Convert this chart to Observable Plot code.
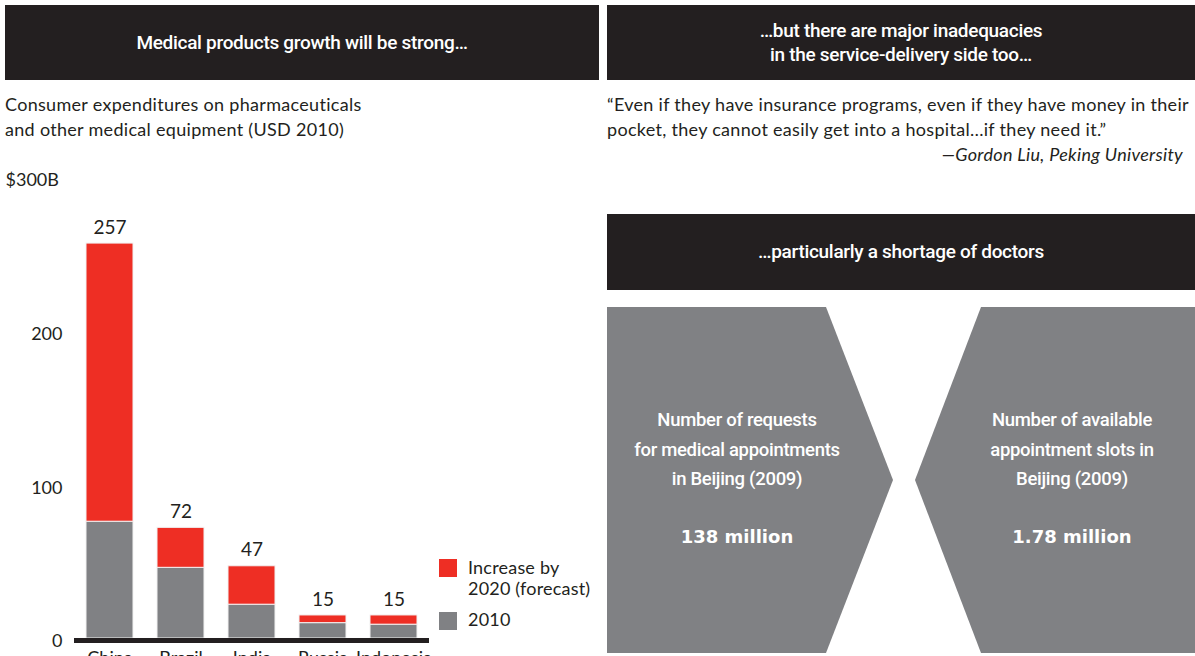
<!DOCTYPE html>
<html>
<head>
<meta charset="utf-8">
<script src="https://cdn.jsdelivr.net/npm/d3@7"></script>
<script src="https://cdn.jsdelivr.net/npm/@observablehq/plot@0.6"></script>
<style>
  html, body { margin: 0; padding: 0; background: #fff; }
  #page { position: relative; width: 1195px; height: 656px; overflow: hidden; font-family: Lato, "Noto Sans", sans-serif; color: #231f20; }
  .abs { position: absolute; }
  .band { background: #231f20; color: #fff; font-family: Roboto, sans-serif; font-weight: 500; font-size: 19px; letter-spacing: -0.3px; display: flex; align-items: center; justify-content: center; text-align: center; line-height: 24px; }
  .body { font-size: 18px; letter-spacing: 0.3px; line-height: 25px; white-space: nowrap; }
  .shape { background: #808184; }
  .stxt { color: #fff; font-family: Roboto, sans-serif; font-weight: 500; font-size: 18.5px; letter-spacing: -0.3px; line-height: 29.5px; text-align: center; white-space: nowrap; }
  .snum { color: #fff; font-family: "DejaVu Sans", sans-serif; font-weight: bold; font-size: 18px; text-align: center; white-space: nowrap; }
  .sw { width: 18px; height: 18px; }
  .lg { font-size: 18px; letter-spacing: 0.2px; line-height: 21px; white-space: nowrap; }
  #chart svg { overflow: visible; }
</style>
</head>
<body>
<div id="page">
  <div class="abs band" style="left:5px;top:5px;width:594px;height:75px;">Medical products growth will be strong…</div>
  <div class="abs band" style="left:607px;top:5px;width:588px;height:75px;">…but there are major inadequacies<br>in the service-delivery side too…</div>
  <div class="abs body" style="left:5px;top:92px;">Consumer expenditures on pharmaceuticals<br>and other medical equipment (USD 2010)</div>
  <div class="abs body" style="left:607px;top:92px;">“Even if they have insurance programs, even if they have money in their<br>pocket, they cannot easily get into a hospital…if they need it.”</div>
  <div class="abs body" style="right:12px;top:142px;font-style:italic;">—Gordon Liu, Peking University</div>
  <div class="abs band" style="left:607px;top:214px;width:588px;height:76px;">…particularly a shortage of doctors</div>

  <div class="abs shape" style="left:607px;top:307px;width:286px;height:346px;clip-path:polygon(0 0,219px 0,286px 173px,219px 346px,0 346px);"></div>
  <div class="abs shape" style="left:915px;top:307px;width:280px;height:346px;clip-path:polygon(66px 0,280px 0,280px 346px,66px 346px,0 173px);"></div>
  <div class="abs stxt" style="left:627px;width:220px;top:406px;">Number of requests<br>for medical appointments<br>in Beijing (2009)</div>
  <div class="abs snum" style="left:637px;width:200px;top:526px;">138 million</div>
  <div class="abs stxt" style="left:962px;width:220px;top:406px;">Number of available<br>appointment slots in<br>Beijing (2009)</div>
  <div class="abs snum" style="left:972px;width:200px;top:526px;">1.78 million</div>

  <div id="chart" class="abs" style="left:0;top:150px;"></div>
  <div id="legend"></div>
</div>
<script>
const countries = ["China", "Brazil", "India", "Russia", "Indonesia"];
const base2010 = [76, 46, 22, 10, 9];
const increase2020 = [181, 26, 25, 5, 6];
const totals = [257, 72, 47, 15, 15];
const seriesNames = ["2010", "Increase by 2020 (forecast)"];
const legendLabels = ["Increase by<br>2020 (forecast)", "2010"];
const colors = { "2010": "#808184", "Increase by 2020 (forecast)": "#ee2e24" };
const dark = "#231f20";

const rows = [];
countries.forEach((c, i) => {
  rows.push({ country: c, series: seriesNames[0], value: base2010[i] });
  rows.push({ country: c, series: seriesNames[1], value: increase2020[i] });
});
const totalRows = countries.map((c, i) => ({ country: c, total: totals[i] }));

const chart = Plot.plot({
  width: 600,
  height: 530,
  marginTop: 27,
  marginLeft: 74,
  marginRight: 171,
  marginBottom: 42,
  style: { background: "transparent", fontFamily: "Lato, 'Noto Sans', sans-serif", fontSize: "18px", color: dark, overflow: "visible" },
  x: { domain: countries, paddingInner: 0.34, paddingOuter: 0.17, label: null },
  y: { domain: [0, 300], label: null },
  color: { domain: seriesNames, range: seriesNames.map(s => colors[s]) },
  marks: [
    Plot.barY(rows, { x: "country", y: "value", fill: "series", order: seriesNames, stroke: "#f2f2f2", strokeWidth: 1 }),
    Plot.text(totalRows, { x: "country", y: "total", text: d => String(d.total), dy: -16, fontSize: 19, fill: dark }),
    Plot.ruleY([0], { stroke: dark, strokeWidth: 5, dy: 2 }),
    Plot.axisY({ ticks: [0, 100, 200], tickSize: 0, tickPadding: 12, dy: 3, fontSize: 18, label: null }),
    Plot.text([300], { y: d => d, text: d => "$" + d + "B", frameAnchor: "left", dx: -69, dy: 3, textAnchor: "start", fontSize: 18, fill: dark }),
    Plot.axisX({ tickSize: 0, tickPadding: 13, fontSize: 18, label: null })
  ]
});
document.getElementById("chart").appendChild(chart);

// legend (HTML), top item = increase, bottom = 2010
const legend = document.getElementById("legend");
const lgPos = [{ sw: 559, txt: 557 }, { sw: 612, txt: 609 }];
[seriesNames[1], seriesNames[0]].forEach((s, i) => {
  const sw = document.createElement("div");
  sw.className = "abs sw";
  sw.style.left = "439px";
  sw.style.top = lgPos[i].sw + "px";
  sw.style.background = colors[s];
  legend.appendChild(sw);
  const t = document.createElement("div");
  t.className = "abs lg";
  t.style.left = "468px";
  t.style.top = lgPos[i].txt + "px";
  t.innerHTML = legendLabels[i];
  legend.appendChild(t);
});
</script>
</body>
</html>
